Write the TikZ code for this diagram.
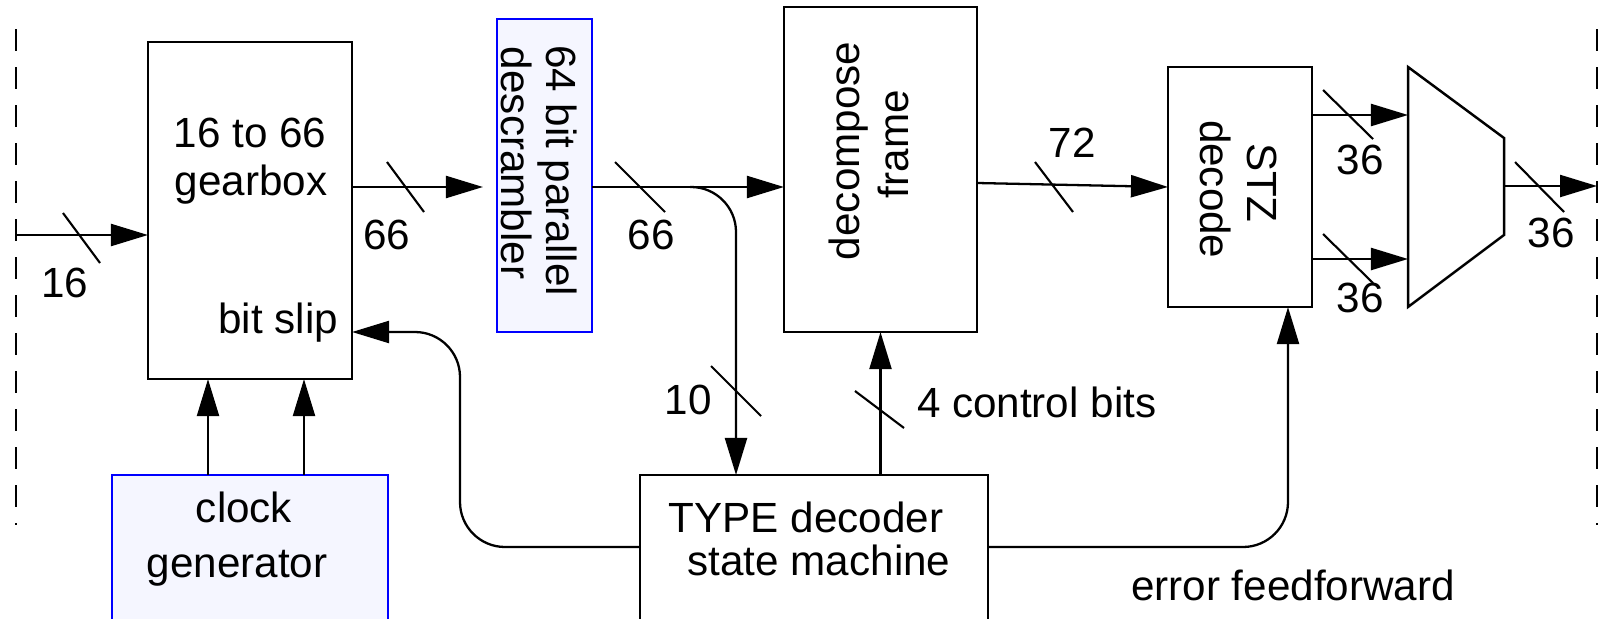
\documentclass[tikz,border=0pt]{standalone}
\usepackage{fontspec}
\setmainfont{Liberation Sans}
\usetikzlibrary{arrows.meta,calc}
\definecolor{lav}{RGB}{245,246,255}
\begin{document}
\begin{tikzpicture}[x=0.01cm,y=-0.01cm,
  every node/.style={inner sep=0pt, outer sep=0pt},
  txt/.style={font=\fontsize{12}{14}\selectfont},
  blk/.style={draw, line width=0.7pt},
  blueblk/.style={draw=blue, fill=lav, line width=0.7pt},
  link/.style={line width=0.65pt},
  arr/.style={link, -{Triangle[length=0.37cm,width=0.22cm]}},
  bus/.style={line width=0.6pt},
  frontier/.style={line width=0.75pt, dash pattern=on 6.26pt off 4.55pt}
]
\useasboundingbox (0,0) rectangle (1600,618);

% blocks
\node[blk, minimum width=2.04cm, minimum height=3.37cm] (gear) at (250,210.5) {};
\node[blueblk, minimum width=0.95cm, minimum height=3.13cm] (desc) at (544.5,175.5) {};
\node[blk, minimum width=1.93cm, minimum height=3.25cm] (frame) at (880.5,169.5) {};
\node[blk, minimum width=1.44cm, minimum height=2.40cm] (stz) at (1240,187) {};
\node[blk, minimum width=3.48cm, minimum height=1.85cm] (type) at (814,567.5) {};
\node[blueblk, minimum width=2.76cm, minimum height=1.85cm] (clk) at (250,567.5) {};

% multiplexer
\draw[blk] (1408,67) -- (1504,138) -- (1504,235) -- (1408,307) -- cycle;
\coordinate (mi1) at (1408,115);
\coordinate (mi2) at (1408,259);
\coordinate (mo) at (1504,186);

% frontiers
\draw[frontier] (16,29) -- (16,525);
\draw[frontier] (1597,29) -- (1597,525);

% block texts
\node[txt, anchor=base] (t1) at (250,147) {16 to 66};
\node[txt, anchor=base] (t2) at (251,195) {gearbox};
\node[txt, anchor=base east] (t3) at (338,333) {bit slip};
\node[txt, anchor=base west, rotate=-90] (t4) at (546,45) {64 bit parallel};
\node[txt, anchor=base west, rotate=-90] (t5) at (501,47) {descrambler};
\node[txt, anchor=base west, rotate=90] (t6) at (859,260) {decompose};
\node[txt, anchor=base west, rotate=90] (t7) at (908,198) {frame};
\node[txt, anchor=base west, rotate=-90] (t8) at (1247,143) {STZ};
\node[txt, anchor=base west, rotate=-90] (t9) at (1200,120) {decode};
\node[txt, anchor=base] (t10) at (806,532) {TYPE decoder};
\node[txt, anchor=base] (t11) at (819,575) {state machine};
\node[txt, anchor=base] (t12) at (244,522) {clock};
\node[txt, anchor=base] (t13) at (237,577) {generator};

% bus width labels
\node[txt] (l1) at (65,283) {16};
\node[txt] (l2) at (387,235) {66};
\node[txt] (l3) at (651,235) {66};
\node[txt] (l4) at (1072,143) {72};
\node[txt] (l5) at (688,400) {10};
\node[txt, anchor=west] (l6) at (917,402) {4 control bits};
\node[txt] (l7) at (1360,160) {36};
\node[txt] (l8) at (1360,298) {36};
\node[txt] (l9) at (1551,233) {36};
\node[txt] (l10) at (1293,585) {error feedforward};

% connectors
\coordinate (inL) at (16,235);
\draw[arr] (inL) -- (inL -| gear.west);
\draw[arr, shorten >=0.14cm] (gear.east |- 0,187) -- (desc.west |- 0,187);
\draw[arr] (desc.east |- 0,187) -- (frame.west |- 0,187);
\coordinate (br) at (690,187);
\coordinate (tin) at (736,475);
\draw[arr, rounded corners=0.45cm] (br) -| (tin);
\draw[arr] (frame.east |- 0,183) -- (stz.west |- 0,187);
\draw[arr] (stz.east |- mi1) -- (mi1);
\draw[arr] (stz.east |- mi2) -- (mi2);
\coordinate (outR) at (1597,186);
\draw[arr] (mo) -- (outR);
\draw[arr] (type.north -| frame.south) -- (frame.south);
\draw[arr, rounded corners=0.45cm] (type.west |- 0,547) -| (460,332) -- (gear.east |- 0,332);
\draw[arr, rounded corners=0.45cm] (type.east |- 0,547) -| (stz.south -| 1288,0);
\draw[arr] (clk.north -| 208,0) -- (gear.south -| 208,0);
\draw[arr] (clk.north -| 304,0) -- (gear.south -| 304,0);

% bus slashes
\draw[bus] (63,213) -- (100,263);
\draw[bus] (387,162) -- (424,212);
\draw[bus] (615,162) -- (665,212);
\draw[bus] (1035,162) -- (1073,212);
\draw[bus] (711,366) -- (761,416);
\draw[bus] (855,391) -- (904,428);
\draw[bus] (1323,90) -- (1373,139);
\draw[bus] (1323,234) -- (1373,283);
\draw[bus] (1515,162) -- (1564,212);
\end{tikzpicture}
\end{document}
